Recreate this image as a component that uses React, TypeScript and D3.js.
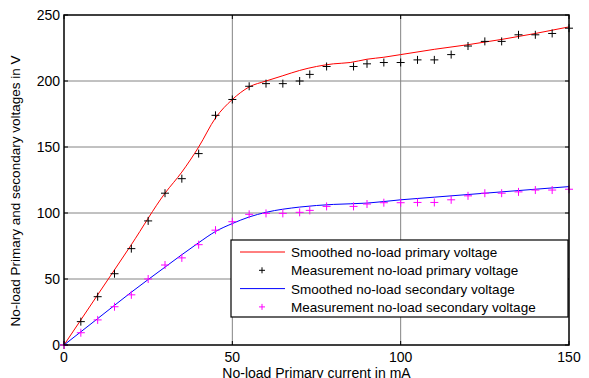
import React from 'react';
import * as d3 from 'd3';

// measurement currents (mA)
const measCurrent = [0, 5, 10, 15, 20, 25, 30, 35, 40, 45, 50, 55, 60, 65, 70, 73, 78, 86, 90, 95, 100, 105, 110, 115, 120, 125, 130, 135, 140, 145, 150];
const measPrimary = [0, 17.7, 36.6, 54, 73, 94, 115, 126, 145, 174, 186, 196, 198, 198, 200, 205, 211, 211, 213, 214, 214, 216, 216, 220, 226.5, 230, 230, 235, 235, 236, 240];
const measSecondary = [0, 9.3, 19, 29, 38, 50, 60.6, 66, 76, 87, 93.4, 99, 99.7, 99.7, 100.5, 102, 105, 105, 106.8, 107.8, 107.8, 108, 108, 110, 113, 115, 115, 116, 117.4, 117.4, 118];

// smoothed curves
const smoothPrimaryX = [0, 10, 20, 30, 35, 40, 45, 50, 55, 60, 65, 70, 75, 80, 85, 90, 95, 100, 110, 120, 130, 140, 150];
const smoothPrimaryY = [0, 38, 76, 115, 131, 150, 172, 186, 195.5, 200, 204, 208, 211, 213, 214, 216.5, 218, 220, 224, 227.5, 231.5, 236, 241];
const smoothSecondaryX = [0, 10, 20, 30, 40, 45, 50, 55, 60, 70, 80, 90, 100, 110, 120, 130, 140, 150];
const smoothSecondaryY = [0, 20, 40, 59, 77.5, 86, 92, 97, 100.5, 104.5, 106.5, 107.5, 110, 112, 114, 116, 118, 120];

const xTicks = [0, 50, 100, 150];
const yTicks = [0, 50, 100, 150, 200, 250];

const legendItems = [
  { label: 'Smoothed no-load primary voltage', color: '#ff0000', kind: 'line' },
  { label: 'Measurement no-load primary voltage', color: '#000000', kind: 'marker' },
  { label: 'Smoothed no-load secondary voltage', color: '#0000ff', kind: 'line' },
  { label: 'Measurement no-load secondary voltage', color: '#ff00ff', kind: 'marker' },
];

const W = 589;
const H = 378;
const left = 64, right = 569, top = 15, bottom = 345;
const font = 'Liberation Sans, Arial, sans-serif';

function Plus({ x, y, color, s = 4 }: { x: number; y: number; color: string; s?: number }) {
  return (
    <path d={`M${x - s},${y}H${x + s}M${x},${y - s}V${y + s}`} stroke={color} strokeWidth={1} fill="none" />
  );
}

export default function App() {
  const x = d3.scaleLinear().domain([0, 150]).range([left, right]);
  const y = d3.scaleLinear().domain([0, 250]).range([bottom, top]);

  const line = d3.line<[number, number]>()
    .x(d => x(d[0]))
    .y(d => y(d[1]))
    .curve(d3.curveMonotoneX);

  const redPath = line(smoothPrimaryX.map((v, i) => [v, smoothPrimaryY[i]] as [number, number])) || '';
  const bluePath = line(smoothSecondaryX.map((v, i) => [v, smoothSecondaryY[i]] as [number, number])) || '';

  const lx = 231, ly = 240, lw = 337, lh = 77;
  const rowH = 18.3;

  return (
    <svg width={W} height={H} style={{ position: 'absolute', left: 0, top: 0, background: '#fff' }}>
      <rect x={0} y={0} width={W} height={H} fill="#fff" />
      {/* grid */}
      {xTicks.filter(t => t > 0 && t < 150).map(t => (
        <line key={'gx' + t} x1={x(t)} x2={x(t)} y1={top} y2={bottom} stroke="#848484" strokeWidth={1} />
      ))}
      {yTicks.filter(t => t > 0 && t < 250).map(t => (
        <line key={'gy' + t} x1={left} x2={right} y1={y(t)} y2={y(t)} stroke="#848484" strokeWidth={1} />
      ))}
      {/* ticks */}
      {xTicks.map(t => (
        <g key={'tx' + t}>
          <line x1={x(t)} x2={x(t)} y1={bottom} y2={bottom - 4} stroke="#000" />
          <line x1={x(t)} x2={x(t)} y1={top} y2={top + 4} stroke="#000" />
          <text x={x(t)} y={bottom + 17} textAnchor="middle" fontFamily={font} fontSize={14}>{t}</text>
        </g>
      ))}
      {yTicks.map(t => (
        <g key={'ty' + t}>
          <line x1={left} x2={left + 4} y1={y(t)} y2={y(t)} stroke="#000" />
          <line x1={right} x2={right - 4} y1={y(t)} y2={y(t)} stroke="#000" />
          <text x={left - 4} y={y(t) + 5} textAnchor="end" fontFamily={font} fontSize={14}>{t}</text>
        </g>
      ))}
      {/* curves */}
      <path d={redPath} fill="none" stroke="#ff0000" strokeWidth={1} />
      <path d={bluePath} fill="none" stroke="#0000ff" strokeWidth={1} />
      {measCurrent.map((c, i) => (
        <Plus key={'p' + i} x={x(c)} y={y(measPrimary[i])} color="#000000" />
      ))}
      {measCurrent.map((c, i) => (
        <Plus key={'s' + i} x={x(c)} y={y(measSecondary[i])} color="#ff00ff" />
      ))}
      {/* frame */}
      <rect x={left} y={top} width={right - left} height={bottom - top} fill="none" stroke="#000" strokeWidth={1.5} />
      {/* legend */}
      <rect x={lx} y={ly} width={lw} height={lh} fill="#fff" stroke="#000" strokeWidth={1.2} />
      {legendItems.map((it, i) => {
        const cy = ly + 12 + i * rowH;
        return (
          <g key={'lg' + i}>
            {it.kind === 'line'
              ? <line x1={lx + 9} x2={lx + 54} y1={cy} y2={cy} stroke={it.color} strokeWidth={1} />
              : <Plus x={lx + 31} y={cy} color={it.color} s={3} />}
            <text x={lx + 60} y={cy + 5} fontFamily={font} fontSize={13.5}>{it.label}</text>
          </g>
        );
      })}
      {/* axis labels */}
      <text x={(left + right) / 2} y={H - 0.5} textAnchor="middle" fontFamily={font} fontSize={14}>No-load Primary current in mA</text>
      <text transform={`translate(20,191) rotate(-90)`} textAnchor="middle" fontFamily={font} fontSize={13.5}>No-load Primary and secondary voltages in V</text>
    </svg>
  );
}
